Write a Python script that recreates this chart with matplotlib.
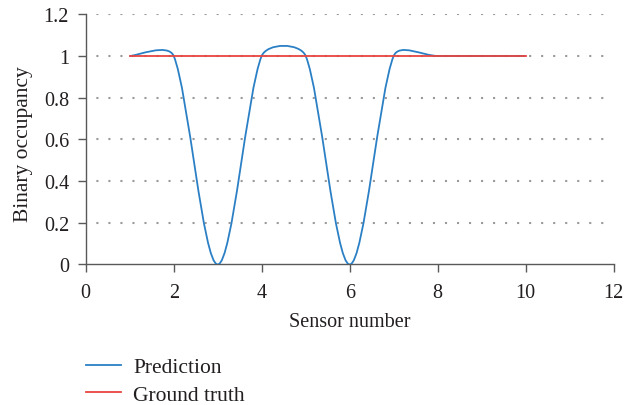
import numpy as np
import matplotlib
matplotlib.use("Agg")
import matplotlib.pyplot as plt
from matplotlib.path import Path
from matplotlib.patches import PathPatch
from matplotlib.lines import Line2D

sensors = [1, 2, 3, 4, 5, 6, 7, 8, 9, 10]
prediction = [1, 1, 0, 1, 1, 0, 1, 1, 1, 1]
ground_truth = [1, 1, 1, 1, 1, 1, 1, 1, 1, 1]
x_ticks = [0, 2, 4, 6, 8, 10, 12]
y_ticks = [0, 0.2, 0.4, 0.6, 0.8, 1.0, 1.2]
y_tick_labels = ["0", "0.2", "0.4", "0.6", "0.8", "1", "1.2"]

BLUE = "#2b80c5"
RED = "#e8453f"
AXIS = "#595959"

plt.rcParams["font.family"] = ["Liberation Serif", "DejaVu Serif"]
FS = 14.5
LEG_FS = 15.5


def smooth_path(ax, xs, ys):
    # spreadsheet-style smoothed line: cubic bezier through the points,
    # tangents from neighbours, handle length capped at a third of the chord
    pts = ax.transData.transform(np.column_stack([xs, ys]))
    n = len(pts)
    verts = [pts[0]]
    codes = [Path.MOVETO]
    for i in range(n - 1):
        p0 = pts[max(i - 1, 0)]
        p1 = pts[i]
        p2 = pts[i + 1]
        p3 = pts[min(i + 2, n - 1)]
        cap = np.hypot(*(p2 - p1)) / 3
        t1 = (p2 - p0) / 6
        t2 = (p3 - p1) / 6
        for t in (t1, t2):
            ln = np.hypot(*t)
            if ln > cap:
                t *= cap / ln
        verts += [p1 + t1, p2 - t2, p2]
        codes += [Path.CURVE4] * 3
    verts = ax.transData.inverted().transform(np.array(verts))
    return Path(verts, codes)


fig = plt.figure(figsize=(6.39, 4.06), dpi=100)
ax = fig.add_axes([0.1341, 0.3461, 0.8263, 0.6163])
ax.set_xlim(0, 12)
ax.set_ylim(0, 1.2)

# dotted horizontal gridlines
ax.hlines(y_ticks[1:], 0, 11.85, colors="#9a9a9a", linewidth=1.5,
          linestyles=[(0.8, (1, 4.77))], zorder=1)

pred = PathPatch(smooth_path(ax, sensors, prediction), facecolor="none",
                 edgecolor=BLUE, linewidth=1.3, zorder=3)
ax.add_patch(pred)
ax.plot(sensors, ground_truth, color=RED, linewidth=1.3, zorder=4)

ax.set_xticks(x_ticks)
ax.set_yticks(y_ticks)
ax.set_yticklabels(y_tick_labels)
for s in ("top", "right"):
    ax.spines[s].set_visible(False)
for s in ("left", "bottom"):
    ax.spines[s].set_color(AXIS)
    ax.spines[s].set_linewidth(1.0)
ax.tick_params(direction="out", length=5.5, width=1.0, color=AXIS,
               labelsize=FS, labelcolor="#231f20")
ax.tick_params(axis="x", pad=7.5)
ax.tick_params(axis="y", pad=6.5)

ax.set_xlabel("Sensor number", fontsize=FS, color="#231f20")
ax.set_ylabel("Binary occupancy", fontsize=15.5, color="#231f20")
ax.xaxis.set_label_coords(0.5, -0.19)
ax.yaxis.set_label_coords(-0.100, 0.484)

handles = [Line2D([], [], color=BLUE, linewidth=1.3),
           Line2D([], [], color=RED, linewidth=1.3)]
fig.legend(handles, ["Prediction", "Ground truth"], loc="upper left",
           bbox_to_anchor=(0.1346, 0.118), frameon=False, fontsize=LEG_FS,
           handlelength=1.63, handletextpad=0.56, borderpad=0,
           borderaxespad=0, labelspacing=0.36, labelcolor="#231f20")

fig.savefig("out.png", dpi=100)
